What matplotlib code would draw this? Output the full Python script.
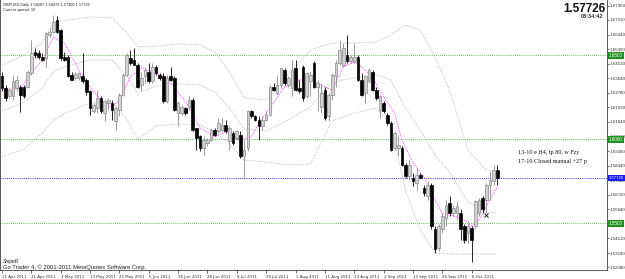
import matplotlib
matplotlib.use("Agg")
import matplotlib.pyplot as plt
from matplotlib.transforms import blended_transform_factory

# ---------------- data ----------------
symbol_line = "GBPUSD,Daily 1.58207 1.58473 1.57300 1.57726"
spread_line = "Current spread: 19"
last_price = 1.57726
clock = "08:34:42"

date_ticks = [0, 8, 16, 24, 32, 40, 48, 56, 64, 72, 80, 88, 96, 104, 112, 120, 128]
date_labels = ["11 Apr 2011", "21 Apr 2011", "3 May 2011", "13 May 2011", "25 May 2011",
               "6 Jun 2011", "16 Jun 2011", "28 Jun 2011", "8 Jul 2011", "20 Jul 2011",
               "1 Aug 2011", "11 Aug 2011", "23 Aug 2011", "2 Sep 2011", "14 Sep 2011",
               "26 Sep 2011", "6 Oct 2011"]

price_ticks = [1.67960, 1.67110, 1.66240, 1.65360, 1.64510, 1.63640, 1.62780, 1.61920,
               1.61040, 1.60180, 1.59300, 1.58440, 1.57580, 1.56720, 1.55840, 1.54120,
               1.53240, 1.52380]
level_lines = [1.6500, 1.6000, 1.5500]

opens = [1.6375, 1.6305, 1.6256, 1.6256, 1.6305, 1.6311, 1.6311, 1.6311, 1.6394, 1.6523,
         1.6517, 1.6493, 1.6484, 1.6622, 1.6642, 1.6711, 1.6652, 1.6493, 1.6489, 1.6385,
         1.6365, 1.6365, 1.6375, 1.6355, 1.6286, 1.6167, 1.6187, 1.6246, 1.6157, 1.6216,
         1.6216, 1.6107, 1.6177, 1.6266, 1.6385, 1.6484, 1.6474, 1.6444, 1.6325, 1.6375,
         1.6404, 1.6345, 1.6434, 1.6385, 1.6375, 1.6226, 1.6375, 1.6365, 1.6157, 1.6157,
         1.6187, 1.6196, 1.6236, 1.6068, 1.6018, 1.5949, 1.5979, 1.5998, 1.6058, 1.6048,
         1.6058, 1.6088, 1.5989, 1.6038, 1.6008, 1.6028, 1.5899, 1.5949, 1.6167, 1.6137,
         1.6117, 1.6078, 1.6117, 1.6147, 1.6315, 1.6276, 1.6325, 1.6414, 1.6325, 1.6305,
         1.6424, 1.6305, 1.6434, 1.6256, 1.6345, 1.6454, 1.6315, 1.6196, 1.6295, 1.6137,
         1.6266, 1.6375, 1.6454, 1.6444, 1.6503, 1.6464, 1.6464, 1.6493, 1.6355, 1.6276,
         1.6345, 1.6404, 1.6295, 1.6177, 1.6216, 1.6147, 1.6097, 1.5949, 1.5949, 1.5949,
         1.5850, 1.5781, 1.5771, 1.5741, 1.5791, 1.5711, 1.5662, 1.5731, 1.5464, 1.5355,
         1.5464, 1.5533, 1.5622, 1.5563, 1.5563, 1.5563, 1.5484, 1.5444, 1.5474, 1.5484,
         1.5563, 1.5652, 1.5642, 1.5731, 1.5751, 1.58207]
highs = [1.6404, 1.6325, 1.6305, 1.6379, 1.6375, 1.6325, 1.6325, 1.6414, 1.6592, 1.6543,
         1.6533, 1.6513, 1.6642, 1.6662, 1.6741, 1.6735, 1.6656, 1.6523, 1.6503, 1.6404,
         1.6404, 1.6404, 1.6513, 1.6365, 1.6295, 1.6216, 1.6295, 1.6256, 1.6236, 1.6246,
         1.6236, 1.6196, 1.6276, 1.6394, 1.6513, 1.6533, 1.6543, 1.6454, 1.6404, 1.6434,
         1.6454, 1.6454, 1.6444, 1.6394, 1.6394, 1.6385, 1.6434, 1.6375, 1.6226, 1.6206,
         1.6196, 1.6256, 1.6246, 1.6068, 1.6028, 1.6018, 1.6008, 1.6068, 1.6068, 1.6127,
         1.6127, 1.6117, 1.6078, 1.6048, 1.6058, 1.6048, 1.5998, 1.6177, 1.6177, 1.6147,
         1.6137, 1.6137, 1.6167, 1.6325, 1.6335, 1.6375, 1.6424, 1.6424, 1.6375, 1.6474,
         1.6474, 1.6355, 1.6444, 1.6404, 1.6404, 1.6464, 1.6355, 1.6335, 1.6315, 1.6276,
         1.6394, 1.6474, 1.6592, 1.6573, 1.6622, 1.6503, 1.6573, 1.6503, 1.6394, 1.6385,
         1.6424, 1.6414, 1.6315, 1.6266, 1.6226, 1.6157, 1.6107, 1.6048, 1.6028, 1.5959,
         1.5860, 1.5880, 1.5800, 1.5830, 1.5800, 1.5731, 1.5751, 1.5741, 1.5484, 1.5494,
         1.5563, 1.5642, 1.5662, 1.5612, 1.5632, 1.5583, 1.5494, 1.5503, 1.5484, 1.5642,
         1.5652, 1.5662, 1.5741, 1.5810, 1.5850, 1.58473]
lows = [1.6286, 1.6226, 1.6246, 1.6236, 1.6286, 1.6161, 1.6246, 1.6305, 1.6385, 1.6484,
        1.6478, 1.6464, 1.6434, 1.6612, 1.6632, 1.6632, 1.6474, 1.6464, 1.6371, 1.6351,
        1.6355, 1.6355, 1.6335, 1.6266, 1.6147, 1.6157, 1.6157, 1.6157, 1.6107, 1.6177,
        1.6117, 1.6058, 1.6137, 1.6256, 1.6375, 1.6444, 1.6444, 1.6305, 1.6286, 1.6335,
        1.6335, 1.6335, 1.6385, 1.6355, 1.6216, 1.6216, 1.6345, 1.6167, 1.6078, 1.6147,
        1.6147, 1.6177, 1.6048, 1.5939, 1.5929, 1.5909, 1.5959, 1.5989, 1.6018, 1.6038,
        1.6048, 1.6038, 1.5939, 1.5969, 1.5998, 1.5890, 1.5769, 1.5929, 1.6127, 1.6107,
        1.5998, 1.6058, 1.6107, 1.6137, 1.6286, 1.6266, 1.6305, 1.6325, 1.6315, 1.6256,
        1.6286, 1.6276, 1.6226, 1.6246, 1.6256, 1.6305, 1.6167, 1.6157, 1.6117, 1.6107,
        1.6236, 1.6315, 1.6444, 1.6434, 1.6454, 1.6454, 1.6454, 1.6345, 1.6256, 1.6216,
        1.6335, 1.6286, 1.6236, 1.6127, 1.6157, 1.6088, 1.5929, 1.5939, 1.5899, 1.5840,
        1.5771, 1.5761, 1.5721, 1.5701, 1.5771, 1.5662, 1.5642, 1.5464, 1.5325, 1.5335,
        1.5444, 1.5484, 1.5543, 1.5543, 1.5523, 1.5404, 1.5385, 1.5385, 1.5272, 1.5464,
        1.5543, 1.5563, 1.5563, 1.5642, 1.5731, 1.57300]
closes = [1.6305, 1.6246, 1.6295, 1.6345, 1.6355, 1.6266, 1.6260, 1.6404, 1.6513, 1.6503,
          1.6489, 1.6474, 1.6632, 1.6642, 1.6701, 1.6642, 1.6484, 1.6474, 1.6379, 1.6355,
          1.6391, 1.6394, 1.6345, 1.6280, 1.6187, 1.6206, 1.6246, 1.6167, 1.6226, 1.6236,
          1.6177, 1.6187, 1.6266, 1.6385, 1.6503, 1.6454, 1.6444, 1.6315, 1.6365, 1.6414,
          1.6345, 1.6434, 1.6394, 1.6365, 1.6226, 1.6365, 1.6355, 1.6177, 1.6216, 1.6196,
          1.6157, 1.6236, 1.6058, 1.6008, 1.5949, 1.5998, 1.5998, 1.6058, 1.6028, 1.6097,
          1.6088, 1.6048, 1.6068, 1.5979, 1.6048, 1.5899, 1.5935, 1.6167, 1.6137, 1.6117,
          1.6078, 1.6117, 1.6147, 1.6315, 1.6295, 1.6325, 1.6424, 1.6335, 1.6365, 1.6414,
          1.6295, 1.6286, 1.6246, 1.6394, 1.6385, 1.6315, 1.6335, 1.6276, 1.6127, 1.6266,
          1.6385, 1.6454, 1.6533, 1.6543, 1.6464, 1.6493, 1.6493, 1.6355, 1.6266, 1.6375,
          1.6414, 1.6295, 1.6246, 1.6256, 1.6167, 1.6097, 1.5939, 1.6038, 1.5969, 1.5850,
          1.5781, 1.5850, 1.5751, 1.5791, 1.5771, 1.5682, 1.5731, 1.5484, 1.5345, 1.5484,
          1.5543, 1.5612, 1.5563, 1.5593, 1.5602, 1.5464, 1.5404, 1.5484, 1.5404, 1.5632,
          1.5642, 1.5583, 1.5731, 1.5761, 1.5820, 1.57726]

# Bollinger bands
bb_idx = [0, 6, 11, 14, 18, 24, 30, 34, 37, 42, 48, 54, 58, 62, 66, 72, 78, 84, 90, 96,
          102, 106, 110, 114, 118, 122, 127, 132, 135]
bb_upper = [1.6443, 1.6503, 1.6574, 1.6699, 1.6711, 1.6729, 1.6723, 1.6634, 1.6550, 1.6556,
            1.6568, 1.6562, 1.6520, 1.6401, 1.6247, 1.6235, 1.6384, 1.6532, 1.6574, 1.6574,
            1.6580, 1.6622, 1.6681, 1.6651, 1.6491, 1.6294, 1.5937, 1.5818, 1.5806]
bb_mid = [1.6169, 1.6223, 1.6306, 1.6407, 1.6437, 1.6473, 1.6473, 1.6378, 1.6276, 1.6318,
          1.6330, 1.6324, 1.6282, 1.6187, 1.6062, 1.6050, 1.6116, 1.6193, 1.6342, 1.6366,
          1.6384, 1.6354, 1.6187, 1.6056, 1.5907, 1.5806, 1.5628, 1.5568, 1.5562]
bb_lower = [1.5896, 1.5943, 1.6038, 1.6116, 1.6163, 1.6217, 1.6223, 1.6122, 1.6003, 1.6080,
            1.6092, 1.6086, 1.6044, 1.5973, 1.5878, 1.5866, 1.5848, 1.5854, 1.6110, 1.6157,
            1.6187, 1.6086, 1.5693, 1.5461, 1.5324, 1.5318, 1.5318, 1.5318, 1.5318]

# magenta moving average
ma_idx = [0, 5, 8, 11, 14, 17, 19, 21, 24, 27, 30, 32, 35, 38, 41, 45, 49, 51, 54, 58,
          61, 65, 68, 70, 74, 77, 81, 84, 88, 90, 93, 96, 98, 101, 104, 107, 109, 112,
          115, 118, 120, 124, 127, 128, 130, 133, 135]
ma_vals = [1.6294, 1.6306, 1.6395, 1.6473, 1.6610, 1.6574, 1.6491, 1.6413, 1.6312, 1.6235,
           1.6193, 1.6235, 1.6372, 1.6425, 1.6401, 1.6366, 1.6253, 1.6193, 1.6068, 1.6015,
           1.6044, 1.5997, 1.6015, 1.6098, 1.6217, 1.6312, 1.6354, 1.6354, 1.6312, 1.6294,
           1.6431, 1.6461, 1.6431, 1.6372, 1.6253, 1.6157, 1.5997, 1.5860, 1.5776, 1.5640,
           1.5562, 1.5538, 1.5509, 1.5479, 1.5520, 1.5640, 1.5717]

note_lines = ["13-10 e H4, tp 80, w Fzy", "17-10 Closed manual +27 p"]
mark_idx, mark_price = 132, 1.5550
signature = "SnipeR"
copyright_text = "Go Trader 4, \u00a9 2001-2011 MetaQuotes Software Corp."

# ---------------- drawing ----------------
W, H = 625, 279
fig = plt.figure(figsize=(W / 100, H / 100), dpi=100, facecolor="white")
ax = fig.add_axes([0 / W, 1 - 270 / H, 607 / W, 270 / H])
ax.set_facecolor("white")

step = 3.669
ax.set_xlim(-2 / step, (607 - 2) / step)
ax.set_ylim(1.6830 - 270 / 1680, 1.6830)

# level lines
for lv in level_lines:
    ax.axhline(lv, color="#22aa22", lw=0.6, ls=(0, (1, 1.5)), zorder=1)
ax.axhline(last_price, color="#3030ff", lw=0.7, ls=(0, (1, 1.2)), zorder=1)

# indicators
band_style = dict(color="#a8a8a8", lw=0.6, ls=(0, (1, 1.6)), zorder=2)
ax.plot(bb_idx, bb_upper, **band_style)
ax.plot(bb_idx, bb_mid, **band_style)
ax.plot(bb_idx, bb_lower, **band_style)
ax.plot(ma_idx, ma_vals, color="#ff40ff", lw=0.6, ls=(0, (1.5, 1.2)), zorder=2)

# candles
for i, (o, h, l, c) in enumerate(zip(opens, highs, lows, closes)):
    bull = c >= o
    wick_col = "#8a8a8a" if bull else "#000000"
    ax.vlines(i, l, h, color=wick_col, lw=0.6, zorder=3)
    lo, hi = min(o, c), max(o, c)
    if hi - lo < 0.0004:
        hi = lo + 0.0004
    ax.bar(i, hi - lo, bottom=lo, width=0.72,
           color="#d2d2d2" if bull else "#000000",
           edgecolor="#8a8a8a" if bull else "#000000", linewidth=0.5, zorder=4)

ax.plot([mark_idx], [mark_price], marker="x", ms=2.5, mew=0.7, color="#202020", zorder=5)

# axes styling
ax.spines["top"].set_visible(False)
for s in ("left", "right", "bottom"):
    ax.spines[s].set_color("#404040")
    ax.spines[s].set_linewidth(0.6)

ax.yaxis.tick_right()
ax.set_yticks(price_ticks)
ax.set_yticklabels(["%.5f" % v for v in price_ticks], family="Liberation Sans")
ax.tick_params(axis="y", which="both", length=1.5, width=0.5, pad=0.6, labelsize=3.2,
               colors="#303030")
ax.set_xticks(date_ticks)
ax.set_xticklabels(date_labels)
ax.tick_params(axis="x", length=2, width=0.5, pad=1.5, labelsize=2.9, colors="#303030",
               direction="out")
for lab in ax.get_xticklabels():
    lab.set_ha("left")

tr = blended_transform_factory(ax.transAxes, ax.transData)
for lv in level_lines:
    ax.text(1.003, lv, "%.4f" % lv, transform=tr, ha="left", va="center", fontsize=3.3,
            family="Liberation Sans", color="white", clip_on=False, zorder=10,
            bbox=dict(boxstyle="square,pad=0.2", fc="#1f8f1f", ec="none"))
ax.text(1.003, last_price, "%.5f" % last_price, transform=tr, ha="left", va="center",
        fontsize=3.1, family="Liberation Sans", color="white", clip_on=False, zorder=10,
        bbox=dict(boxstyle="square,pad=0.2", fc="#1a1aff", ec="none"))

# texts
fs = "Liberation Sans"
ax.text(3 / 607, 1 - 5 / 270, symbol_line, transform=ax.transAxes, fontsize=2.8,
        family=fs, color="#202020", va="center", ha="left")
ax.text(3 / 607, 1 - 10.5 / 270, spread_line, transform=ax.transAxes, fontsize=2.8,
        family=fs, color="#202020", va="center", ha="left")
ax.text(605 / 607, 1 - 9 / 270, "%.5f" % last_price, transform=ax.transAxes,
        fontsize=8.4, family=fs, weight="bold", color="#101010", va="center", ha="right")
ax.text(603 / 607, 1 - 17 / 270, clock, transform=ax.transAxes, fontsize=4.0,
        family=fs, weight="bold", color="#303030", va="center", ha="right")
ax.text(518 / 607, 1 - 152 / 270, note_lines[0], transform=ax.transAxes, fontsize=4.4,
        family="Liberation Serif", color="#101010", va="center", ha="left")
ax.text(518 / 607, 1 - 161 / 270, note_lines[1], transform=ax.transAxes, fontsize=4.4,
        family="Liberation Serif", color="#101010", va="center", ha="left")
ax.text(3 / 607, 1 - 262 / 270, signature, transform=ax.transAxes, fontsize=3.6,
        family=fs, style="italic", color="#202020", va="center", ha="left")
ax.text(3 / 607, 1 - 267 / 270, copyright_text, transform=ax.transAxes, fontsize=4.2,
        family=fs, color="#202020", va="center", ha="left")

fig.savefig("out.png", dpi=100, facecolor="white")
